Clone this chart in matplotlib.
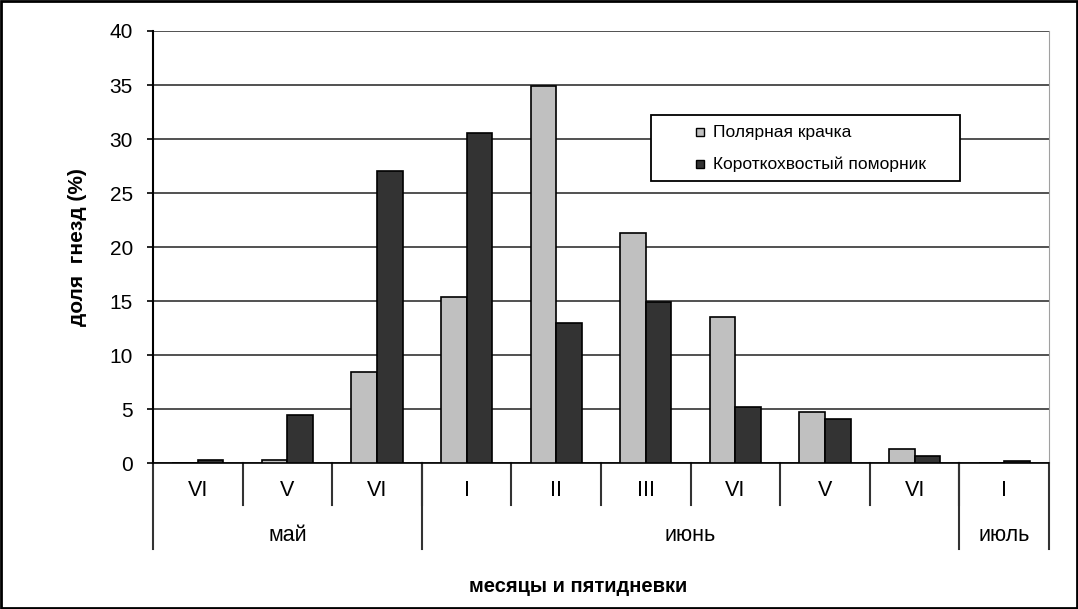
import matplotlib.pyplot as plt
import numpy as np
from matplotlib.patches import Rectangle

plt.rcParams['font.family'] = ['Liberation Sans', 'DejaVu Sans']

# пятидневки и месяцы
pentads = ["VI", "V", "VI", "I", "II", "III", "VI", "V", "VI", "I"]
months = ["май", "июнь", "июль"]
month_spans = [3, 6, 1]   # сколько пятидневок в каждом месяце

# доля гнезд (%)
tern = [0, 0.3, 8.4, 15.4, 34.9, 21.3, 13.5, 4.7, 1.3, 0]
skua = [0.3, 4.4, 27.0, 30.6, 13.0, 14.9, 5.2, 4.1, 0.65, 0.2]
series_names = ["Полярная крачка", "Короткохвостый поморник"]

light = "#c0c0c0"
dark = "#333333"

fig = plt.figure(figsize=(10.78, 6.09), dpi=100)
ax = fig.add_axes([0.1419, 0.2397, 0.8312, 0.7094])

x = np.arange(len(pentads))
w = 0.286
ax.bar(x - w / 2, tern, w, color=light, edgecolor="black", linewidth=1.2, zorder=3)
ax.bar(x + w / 2, skua, w, color=dark, edgecolor="black", linewidth=1.2, zorder=3)

ax.set_xlim(-0.5, len(pentads) - 0.5)
ax.set_ylim(0, 40)
ax.set_yticks(range(0, 41, 5))
ax.yaxis.grid(True, color="#333333", linewidth=1.2, zorder=0)
ax.set_xticks([])
ax.tick_params(axis="y", direction="out", length=4.5, width=1.2, labelsize=15, pad=10)
ax.spines["top"].set_visible(False)
ax.spines["right"].set_color("#a0a0a0")
ax.spines["left"].set_linewidth(1.5)
ax.spines["bottom"].set_linewidth(1.2)

# таблица под осью
tr = ax.get_xaxis_transform()
row1 = -42 / 432
row2 = -86 / 432
for i in range(len(pentads)):
    ax.text(i, -27 / 432, pentads[i], transform=tr, ha="center", va="center", fontsize=15.5)
for i in range(1, len(pentads)):
    ax.plot([i - 0.5, i - 0.5], [0, row1], transform=tr, color="#333333",
            linewidth=1.5, clip_on=False)
start = -0.5
edges = [start]
for m, n in zip(months, month_spans):
    ax.text(start + n / 2, -72 / 432, m, transform=tr, ha="center", va="center", fontsize=15.5)
    start += n
    edges.append(start)
for e in edges:
    ax.plot([e, e], [0, row2], transform=tr, color="#333333", linewidth=1.5, clip_on=False)

ax.set_ylabel("доля  гнезд (%)", fontsize=15, fontweight="bold")
ax.yaxis.set_label_coords(-0.074, 0.5)
fig.text(578 / 1078, 1 - 586 / 609, "месяцы и пятидневки", ha="center", va="center",
         fontsize=14.5, fontweight="bold")

# легенда (рамка как в Excel)
ax.add_patch(Rectangle((0.5558, 0.6528), 0.3449, 0.1528, transform=ax.transAxes,
                       facecolor="white", edgecolor="black", linewidth=1.3, zorder=5,
                       clip_on=False))
for k, (name, col) in enumerate(zip(series_names, [light, dark])):
    yy = (463 - 132 - 32 * k) / 432
    ax.plot([0.6105], [yy], marker="s", markersize=6, color=col, markeredgecolor="black",
            markeredgewidth=1, transform=ax.transAxes, zorder=6, clip_on=False)
    ax.text(0.625, yy, name, transform=ax.transAxes, ha="left", va="center",
            fontsize=12.5, zorder=6)

fig.patches.append(Rectangle((0.001, 0.001), 0.998, 0.997, transform=fig.transFigure,
                             fill=False, edgecolor="black", linewidth=2))

fig.savefig("out.png", dpi=100)
